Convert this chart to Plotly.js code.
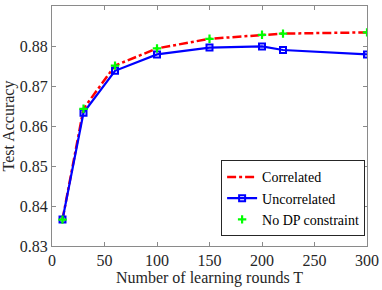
<!DOCTYPE html>
<html><head><meta charset="utf-8">
<script src="https://cdn.plot.ly/plotly-3.0.1.min.js"></script>
<style>html,body{margin:0;padding:0;background:#fff}#c{width:382px;height:290px}</style>
</head><body><div id="c"></div>
<script>
const rounds = [10, 30, 60, 100, 150, 200, 220, 300];
const correlated = [0.8366, 0.8643, 0.8751, 0.8794, 0.8818, 0.8828, 0.8831, 0.8834];
const uncorrelated = [0.8366, 0.8633, 0.8738, 0.8779, 0.8796, 0.8799, 0.8790, 0.8779];
const noDP = [0.8366, 0.8643, 0.8751, 0.8794, 0.8818, 0.8828, 0.8831, 0.8834];
const xTicks = [0, 50, 100, 150, 200, 250, 300];
const yTicks = [0.83, 0.84, 0.85, 0.86, 0.87, 0.88, 0.89];

function mk(size, color) { return {family: 'Liberation Serif', size: size, color: color || '#262626'}; }
const traces = [
  {x: rounds, y: correlated, name: 'Correlated', mode: 'lines',
   line: {color: '#ff0000', width: 2.5, dash: 'dashdot'}},
  {x: rounds, y: uncorrelated, name: 'Uncorrelated', mode: 'lines+markers',
   line: {color: '#0000ff', width: 2.2},
   marker: {symbol: 'square-open', size: 6, color: '#0000ff', line: {width: 2, color: '#0000ff'}}},
  {x: rounds, y: noDP, name: 'No DP constraint', mode: 'markers',
   marker: {symbol: 'cross-thin-open', size: 6, color: '#00ff00', line: {width: 2.2, color: '#00ff00'}}}
];
function axis(extra) {
  return Object.assign({showline: true, mirror: 'ticks', linecolor: '#8a8a8a', linewidth: 1,
    ticks: 'inside', ticklen: 4, tickcolor: '#8a8a8a', showgrid: false, zeroline: false,
    tickfont: mk(16)}, extra);
}
const layout = {
  width: 382, height: 290,
  margin: {l: 52, r: 15, t: 6, b: 44},
  paper_bgcolor: '#fff', plot_bgcolor: '#fff',
  font: mk(16),
  showlegend: true,
  xaxis: axis({range: [0, 300], tickvals: xTicks, ticktext: xTicks.map(String),
    title: {text: 'Number of learning rounds T', font: mk(16), standoff: 1}}),
  yaxis: axis({range: [0.83, 0.89], tickvals: yTicks, ticktext: yTicks.map(v => v.toFixed(2)),
    title: {text: 'Test Accuracy', font: mk(16), standoff: 1}}),
  legend: {x: 0.994, y: 0.04, xanchor: 'right', yanchor: 'bottom', bgcolor: '#fff',
    bordercolor: '#262626', borderwidth: 1, font: mk(14, '#000'),
    tracegroupgap: 0, itemwidth: 30}
};
Plotly.newPlot('c', traces, layout, {displayModeBar: false, staticPlot: true});
</script></body></html>
